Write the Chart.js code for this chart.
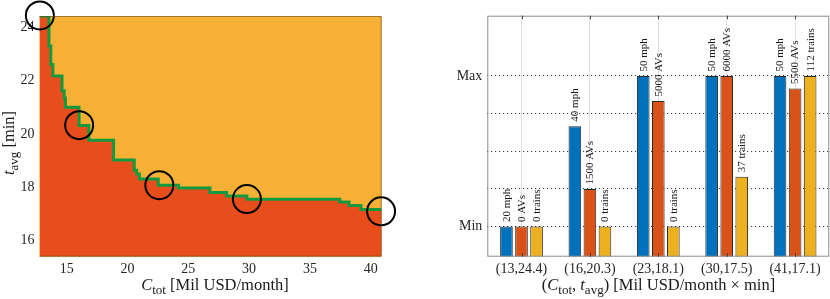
<!DOCTYPE html>
<html>
<head>
<meta charset="utf-8">
<script src="https://cdn.jsdelivr.net/npm/chart.js@4.4.1/dist/chart.umd.min.js"></script>
<style>
  html, body { margin: 0; padding: 0; background: #fff; }
  #wrap { position: relative; width: 830px; height: 299px; }
  .box { position: absolute; top: 0; width: 415px; height: 299px; }
</style>
</head>
<body>
<div id="wrap">
  <div class="box" style="left:0"><canvas id="frontChart" width="415" height="299"></canvas></div>
  <div class="box" style="left:415px"><canvas id="designChart" width="415" height="299"></canvas></div>
</div>
<script>
// Frente (panel izquierdo): puntos donde baja cada escalón
const frontX = [12.77, 13.55, 13.70, 13.87, 14.62, 14.80, 14.90, 16.02, 16.83, 18.86, 20.56, 20.76, 20.98, 22.53, 24.20, 26.78, 28.15, 29.82, 37.45, 38.22, 39.20, 40.88];
const frontY = [24.42, 23.30, 22.60, 22.17, 21.62, 21.35, 21.00, 20.32, 19.76, 19.02, 18.64, 18.50, 18.31, 18.08, 17.97, 17.81, 17.67, 17.55, 17.45, 17.32, 17.17, 17.17];
const circleX = [12.80, 16.03, 22.62, 29.82, 40.85];
const circleY = [24.44, 20.33, 18.08, 17.56, 17.10];
const xTicksLeft = [15, 20, 25, 30, 35, 40];
const yTicksLeft = [16, 18, 20, 22, 24];

// Diseños (panel derecho)
const designLabels = ['(13,24.4)', '(16,20.3)', '(23,18.1)', '(30,17.5)', '(41,17.1)'];
const speeds = [20, 40, 50, 50, 50];
const avs = [0, 1500, 5000, 6000, 5500];
const trains = [0, 0, 0, 37, 112];
const speedRange = [20, 50];
const avRange = [0, 6000];
const trainRange = [0, 112];
const levelTicks = [0, 0.25, 0.5, 0.75, 1];
const levelLabels = ['Min', '', '', '', 'Max'];

const SERIF = '"Liberation Serif", "DejaVu Serif", serif';
const TITLE_SIZE = 16.5;
const norm = (v, r) => (v - r[0]) / (r[1] - r[0]);

// texto con cursiva y subíndices
function drawRich(ctx, parts, x, y, size) {
    const fonts = {
        r: `${size}px ${SERIF}`,
        i: `italic ${size}px ${SERIF}`,
        s: `${Math.round(size * 0.76)}px ${SERIF}`
    };
    let total = 0;
    parts.forEach(p => { ctx.font = fonts[p[1]]; total += ctx.measureText(p[0]).width; });
    let cx = x - total / 2;
    ctx.textAlign = 'left';
    ctx.textBaseline = 'alphabetic';
    parts.forEach(p => {
        ctx.font = fonts[p[1]];
        ctx.fillText(p[0], cx, y + (p[1] === 's' ? size * 0.24 : 0));
        cx += ctx.measureText(p[0]).width;
    });
}

const fixedTicks = (values) => (scale) => { scale.ticks = values.map(v => ({ value: v })); };

// Chart izquierdo
const frontPlugin = {
    id: 'frontDeco',
    beforeDraw(chart) {
        const { ctx, chartArea: a } = chart;
        ctx.save();
        ctx.fillStyle = '#F5B035';
        ctx.fillRect(a.left, a.top, a.right - a.left, a.bottom - a.top);
        ctx.restore();
    },
    afterDraw(chart) {
        const { ctx, chartArea: a } = chart;
        ctx.save();
        ctx.strokeStyle = 'rgba(90,70,40,0.55)';
        ctx.lineWidth = 1;
        ctx.beginPath();
        ctx.moveTo(a.left, a.top + 0.5);
        ctx.lineTo(a.right - 0.5, a.top + 0.5);
        ctx.lineTo(a.right - 0.5, a.bottom - 0.5);
        ctx.lineTo(a.left, a.bottom - 0.5);
        ctx.stroke();
        ctx.fillStyle = '#1a1a1a';
        drawRich(ctx, [['C', 'i'], ['tot', 's'], [' [Mil USD/month]', 'r']], 215, 290, TITLE_SIZE);
        ctx.translate(14, 143);
        ctx.rotate(-Math.PI / 2);
        drawRich(ctx, [['t', 'i'], ['avg', 's'], [' [min]', 'r']], 0, 0, TITLE_SIZE);
        ctx.restore();
    }
};

new Chart(document.getElementById('frontChart'), {
    type: 'line',
    data: {
        datasets: [
            {
                type: 'scatter',
                data: circleX.map((x, i) => ({ x: x, y: circleY[i] })),
                pointRadius: 14,
                pointBorderWidth: 2,
                pointBorderColor: '#000',
                pointBackgroundColor: 'rgba(0,0,0,0)',
                clip: false
            },
            {
                data: frontX.map((x, i) => ({ x: x, y: frontY[i] })),
                stepped: 'before',
                borderColor: '#149A3E',
                borderWidth: 3,
                backgroundColor: '#E84E1B',
                fill: 'start',
                pointRadius: 0
            }
        ]
    },
    options: {
        responsive: false,
        animation: false,
        layout: { padding: { left: 0, top: 15.7, right: 33.3, bottom: 0 } },
        plugins: { legend: { display: false }, tooltip: { enabled: false } },
        scales: {
            x: {
                type: 'linear',
                min: 12.77,
                max: 40.9,
                afterBuildTicks: fixedTicks(xTicksLeft),
                afterFit: (s) => { s.height = 42.3; },
                grid: { display: false, drawTicks: false },
                border: { display: false },
                ticks: { color: '#262626', padding: 4, font: { family: SERIF, size: 14 } }
            },
            y: {
                min: 15.4,
                max: 24.42,
                afterBuildTicks: fixedTicks(yTicksLeft),
                afterFit: (s) => { s.width = 39.5; },
                grid: { display: false, drawTicks: false },
                border: { display: false },
                ticks: { color: '#262626', padding: 5, font: { family: SERIF, size: 14 } }
            }
        }
    },
    plugins: [frontPlugin]
});

// Chart derecho
const designPlugin = {
    id: 'designDeco',
    afterDatasetsDraw(chart) {
        const { ctx, chartArea: a } = chart;
        ctx.save();
        // marco
        ctx.strokeStyle = '#8c8c8c';
        ctx.lineWidth = 1;
        ctx.strokeRect(a.left + 0.5, a.top + 0.5, a.right - a.left - 1, a.bottom - a.top - 1);
        // marcas superiores e inferiores
        const xs = chart.scales.x;
        ctx.strokeStyle = '#444';
        designLabels.forEach((_, i) => {
            const px = Math.round(xs.getPixelForValue(i)) + 0.5;
            ctx.beginPath();
            ctx.moveTo(px, a.top); ctx.lineTo(px, a.top + 3.5);
            ctx.moveTo(px, a.bottom); ctx.lineTo(px, a.bottom - 3.5);
            ctx.stroke();
        });
        // etiquetas de barras
        ctx.fillStyle = '#1a1a1a';
        ctx.font = `11px ${SERIF}`;
        ctx.textAlign = 'left';
        ctx.textBaseline = 'middle';
        chart.data.datasets.forEach((ds, di) => {
            chart.getDatasetMeta(di).data.forEach((bar, i) => {
                ctx.save();
                ctx.translate(bar.x + 0.5, bar.y - 4.5);
                ctx.rotate(-Math.PI / 2);
                ctx.fillText(ds.raw[i] + ' ' + ds.unit, 0, 0);
                ctx.restore();
            });
        });
        ctx.fillStyle = '#1a1a1a';
        drawRich(ctx, [['(', 'r'], ['C', 'i'], ['tot', 's'], [', ', 'r'], ['t', 'i'], ['avg', 's'], [') [Mil USD/month \u00d7 min]', 'r']], 243.5, 290, TITLE_SIZE);
        ctx.restore();
    }
};

const barStyle = { borderColor: '#2a2a2a', borderWidth: 1, base: -0.2, barPercentage: 0.84, categoryPercentage: 0.66 };

new Chart(document.getElementById('designChart'), {
    type: 'bar',
    data: {
        labels: designLabels,
        datasets: [
            Object.assign({ data: speeds.map(v => norm(v, speedRange)), raw: speeds, unit: 'mph', backgroundColor: '#0072BD' }, barStyle),
            Object.assign({ data: avs.map(v => norm(v, avRange)), raw: avs, unit: 'AVs', backgroundColor: '#D95319' }, barStyle),
            Object.assign({ data: trains.map(v => norm(v, trainRange)), raw: trains, unit: 'trains', backgroundColor: '#EDB120' }, barStyle)
        ]
    },
    options: {
        responsive: false,
        animation: false,
        layout: { padding: { left: 0, top: 15.7, right: 0.7, bottom: 0 } },
        plugins: { legend: { display: false }, tooltip: { enabled: false } },
        scales: {
            x: {
                offset: true,
                afterFit: (s) => { s.height = 42.3; },
                grid: { offset: false, color: '#e0e0e0', lineWidth: 1, drawTicks: false },
                border: { display: false },
                ticks: { color: '#262626', padding: 4, maxRotation: 0, font: { family: SERIF, size: 14 } }
            },
            y: {
                min: -0.2,
                max: 1.4,
                afterBuildTicks: fixedTicks(levelTicks),
                afterFit: (s) => { s.width = 72.3; },
                grid: { color: '#3a3a3a', lineWidth: 1, drawTicks: false },
                border: { display: false, dash: [1.2, 2.8] },
                ticks: {
                    color: '#262626',
                    padding: 5,
                    font: { family: SERIF, size: 14 },
                    callback: (v) => levelLabels[levelTicks.indexOf(v)] || ''
                }
            }
        }
    },
    plugins: [designPlugin]
});
</script>
</body>
</html>
